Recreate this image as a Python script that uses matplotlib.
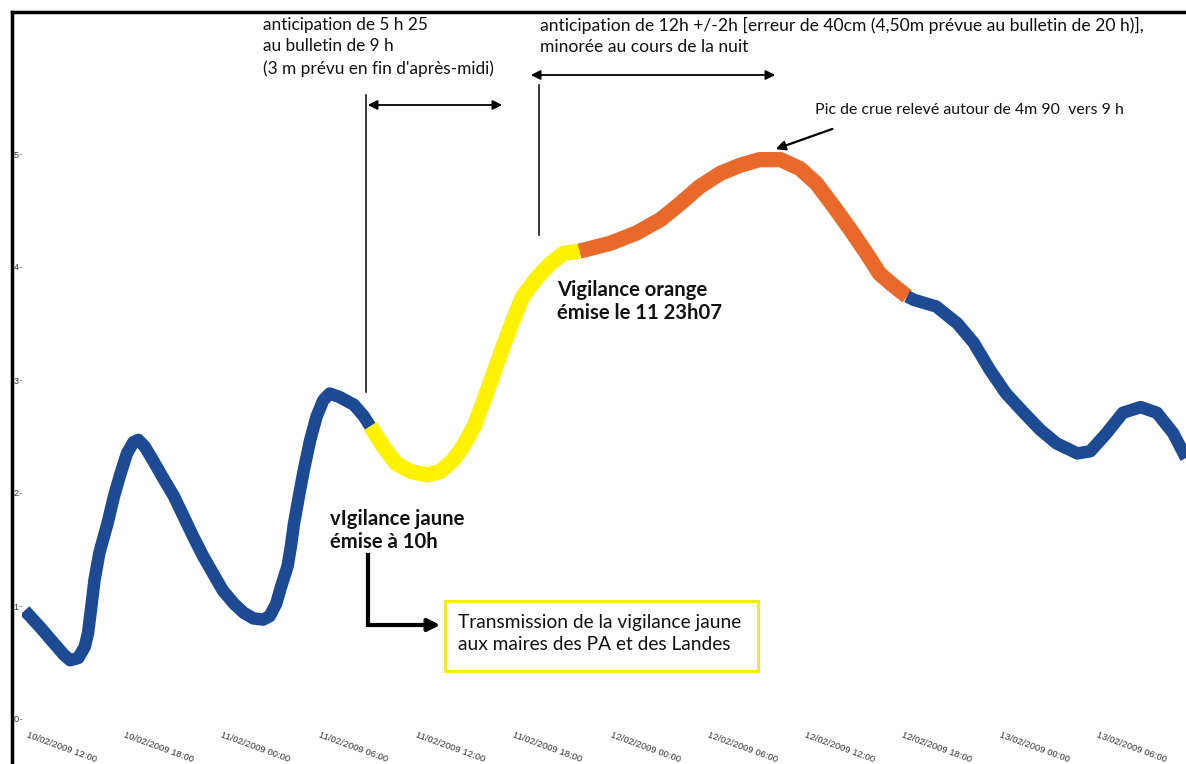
import matplotlib
matplotlib.use("Agg")
import matplotlib.pyplot as plt
from matplotlib.lines import Line2D
from matplotlib.patches import Rectangle

# hours after 10/02/2009 12:00 and water level (m)
hours = [-0.2, 0.7, 1.6, 2.2, 2.6, 3.1, 3.5, 3.7, 3.9, 4.1, 4.4, 4.9, 5.3, 5.7, 6.1, 6.5, 6.8,
         7.2, 7.7, 8.3, 9.0, 9.6, 10.2, 10.8, 11.4, 12.0, 12.7, 13.3, 13.9, 14.5, 14.9, 15.3,
         15.6, 16.0, 16.2, 16.4, 16.7, 17.0, 17.4, 17.8, 18.2, 18.6, 19.2, 20.1, 20.7, 21.1,
         21.9, 22.7, 23.6, 24.6, 25.4, 26.2, 26.8, 27.5, 28.1, 28.7, 29.3, 29.9, 30.5, 31.4,
         32.2, 33.0, 34.0,
         35.9, 37.5, 39.0, 40.2, 41.4, 42.7, 43.9, 45.1, 46.4, 47.6, 48.6, 49.7, 50.7, 51.7,
         52.5, 53.4, 54.2,
         54.6, 56.0, 57.3, 58.3, 59.3, 60.3, 61.4, 62.4, 63.4, 64.7, 65.5, 66.5, 67.5, 68.6,
         69.6, 70.6, 71.4]
level = [0.96, 0.82, 0.67, 0.57, 0.52, 0.54, 0.64, 0.76, 0.99, 1.23, 1.47, 1.73, 1.97, 2.17, 2.35,
         2.45, 2.47, 2.41, 2.29, 2.14, 1.97, 1.79, 1.61, 1.44, 1.29, 1.14, 1.02, 0.94, 0.89, 0.88,
         0.91, 1.02, 1.17, 1.35, 1.52, 1.73, 1.97, 2.20, 2.47, 2.68, 2.82, 2.88, 2.85, 2.78, 2.68,
         2.59, 2.41, 2.26, 2.19, 2.16, 2.19, 2.29, 2.41, 2.59, 2.82, 3.06, 3.30, 3.53, 3.74, 3.91,
         4.03, 4.12, 4.14,
         4.21, 4.30, 4.42, 4.56, 4.71, 4.83, 4.90, 4.95, 4.95, 4.87, 4.74, 4.53, 4.33, 4.12,
         3.94, 3.83, 3.74,
         3.71, 3.65, 3.50, 3.33, 3.09, 2.88, 2.71, 2.56, 2.44, 2.35, 2.37, 2.53, 2.71, 2.76,
         2.71, 2.53, 2.31]
yellow_start, orange_start, orange_end = 21.1, 34.0, 54.2   # vigilance colour changes

tick_hours = list(range(0, 67, 6))
tick_labels = ["10/02/2009 12:00", "10/02/2009 18:00", "11/02/2009 00:00", "11/02/2009 06:00",
               "11/02/2009 12:00", "11/02/2009 18:00", "12/02/2009 00:00", "12/02/2009 06:00",
               "12/02/2009 12:00", "12/02/2009 18:00", "13/02/2009 00:00", "13/02/2009 06:00"]

blue, yellow, orange = "#1c4b94", "#fff200", "#e8692a"
W, H = 1186, 764

fig = plt.figure(figsize=(W / 100, H / 100), dpi=100)
ax = fig.add_axes([22 / W, 42 / H, 1 - 22 / W, 1 - 54 / H])
ax.set_xlim((22 - 28) / 16.22, (W - 28) / 16.22)
ax.set_ylim((719 - 722) / 113, (719 - 12) / 113)
for s in ax.spines.values():
    s.set_visible(False)

i1, i2, i3 = hours.index(yellow_start), hours.index(orange_start), hours.index(orange_end)
segs = [(0, i1, blue, 9), (i1, i2, yellow, 11), (i2, i3, orange, 11),
        (i3, len(hours) - 1, blue, 9)]
for a, b, c, w in segs:
    ax.plot(hours[a:b + 1], level[a:b + 1], color=c, lw=w,
            solid_capstyle="butt", solid_joinstyle="round")

ax.set_xticks(tick_hours)
ax.set_xticklabels(tick_labels, rotation=-20, ha="left", va="top", rotation_mode="anchor",
                   fontsize=6.8, color="#333333", family="Liberation Sans")
ax.set_yticks(range(6))
ax.set_yticklabels([str(i) for i in range(6)], fontsize=6.5, color="#333333",
                   family="Liberation Sans")
ax.tick_params(axis="x", length=0, pad=6)
ax.tick_params(axis="y", length=2, pad=0.5, width=0.6, color="#888888")

def px(x, y):
    return (x - 28) / 16.22, (719 - y) / 113

font = "Lato"
ax.text(*px(263, 17), "anticipation de 5 h 25\nau bulletin de 9 h\n(3 m prévu en fin d'après-midi)",
        fontsize=12.4, family=font, va="top", ha="left", linespacing=1.42, color="#111111")
ax.text(*px(540, 17), "anticipation de 12h +/-2h [erreur de 40cm (4,50m prévue au bulletin de 20 h)],\n"
        "minorée au cours de la nuit",
        fontsize=12.6, family=font, va="top", ha="left", linespacing=1.42, color="#111111")

arrow = dict(arrowstyle="<|-|>", color="black", lw=1.3, mutation_scale=14)
ax.annotate("", xy=px(505, 105), xytext=px(365, 105), arrowprops=arrow)
ax.annotate("", xy=px(778, 75), xytext=px(528, 75), arrowprops=arrow)
ax.plot(*zip(px(366, 95), px(366, 392)), color="black", lw=1.1)
ax.plot(*zip(px(539, 85), px(539, 235)), color="black", lw=1.1)

ax.text(*px(815, 110), "Pic de crue relevé autour de 4m 90  vers 9 h", fontsize=11.4,
        family=font, va="center", ha="left", color="#111111")
ax.annotate("", xy=px(773, 150), xytext=px(835, 128),
            arrowprops=dict(arrowstyle="-|>", color="black", lw=1.6, mutation_scale=14))

ax.text(*px(557, 280), "Vigilance orange\némise le 11 23h07", fontsize=14.6, family=font,
        weight="bold", va="top", ha="left", linespacing=1.16, color="#111111")
ax.text(*px(330, 509), "vIgilance jaune\némise à 10h", fontsize=14.6, family=font,
        weight="bold", va="top", ha="left", linespacing=1.16, color="#111111")

ax.plot(*zip(px(368, 555), px(368, 625), px(425, 625)), color="black", lw=3,
        solid_joinstyle="miter")
ax.annotate("", xy=px(443, 625), xytext=px(420, 625),
            arrowprops=dict(arrowstyle="-|>", color="black", lw=3, mutation_scale=18))

x0, y0 = px(445, 671)
x1, y1 = px(758, 601)
ax.add_patch(Rectangle((x0, y0), x1 - x0, y1 - y0, fill=False, ec="#f5ea1a", lw=2.2))
ax.text(*px(458, 614), "Transmission de la vigilance jaune\naux maires des PA et des Landes",
        fontsize=13.8, family=font, va="top", ha="left", linespacing=1.38, color="#111111")

# black frame of the original picture
fig.add_artist(Line2D([12 / W, 1], [1 - 12 / H, 1 - 12 / H], color="black", lw=2.5))
fig.add_artist(Line2D([12 / W, 12 / W], [0, 1 - 12 / H], color="black", lw=2.5))

fig.savefig("out.png", dpi=100)
